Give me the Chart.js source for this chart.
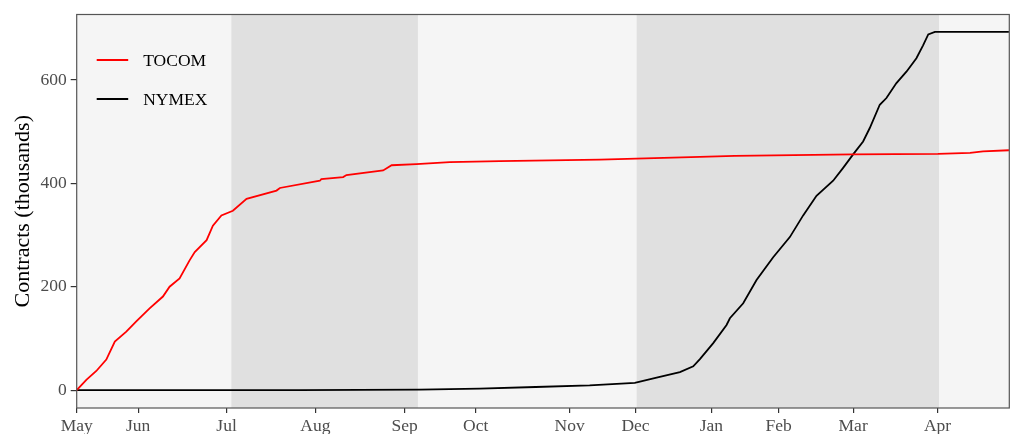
<!DOCTYPE html>
<html>
<head>
<meta charset="utf-8">
<script src="https://cdn.jsdelivr.net/npm/chart.js@4/dist/chart.umd.min.js"></script>
<style>
  html, body { margin: 0; padding: 0; background: #ffffff; }
  #wrap { width: 1013px; height: 434px; position: relative; }
</style>
</head>
<body>
<div id="wrap"><canvas id="c" width="1013" height="434"></canvas></div>
<script>
// x values are trading-day indices from the first trading day of May
const tickPositions = [0, 16.6, 40.5, 64.5, 88.6, 107.8, 133.2, 151.0, 171.5, 189.7, 209.8, 232.6];
const tickLabels = ['May', 'Jun', 'Jul', 'Aug', 'Sep', 'Oct', 'Nov', 'Dec', 'Jan', 'Feb', 'Mar', 'Apr'];
const xMax = 252;

// shaded periods (start, end) in the same trading-day units
const shadedStart = [41.8, 151.3];
const shadedEnd = [92.2, 233.0];

const yTicks = [0, 200, 400, 600];

const tocomX = [0, 2.6, 5.3, 8.0, 10.3, 13.4, 16.1, 19.7, 23.3, 25.1, 27.8, 30.5, 31.9, 35.1, 36.8, 39.1, 42.2, 45.9,
  54.0, 54.9, 65.7, 66.1, 72.0, 72.9, 82.8, 85.1, 91.8, 100.8, 114.3, 141.4, 168.4, 177.8, 209.7, 232.7, 241.4, 244.9, 251.9];
const tocomY = [0, 20, 37, 59, 94, 113, 133, 158, 181, 200, 216, 251, 267, 290, 318, 338, 347, 370,
  386, 391, 405, 408, 412, 416, 425, 435, 437, 441, 443, 446, 451, 453, 456, 457, 459, 462, 464];

const nymexX = [0, 60, 92.7, 108.9, 124.0, 138.6, 150.8, 156.7, 163.0, 166.6, 168.4, 172.0, 175.6, 176.5, 180.1, 183.7,
  188.2, 192.7, 196.3, 199.9, 204.4, 207.1, 209.8, 212.5, 214.3, 217.0, 218.8, 221.5, 224.2, 226.9, 228.7, 230.1, 231.9, 251.9];
const nymexY = [0, 0, 1, 3, 6, 9, 14, 24, 35, 46, 60, 91, 126, 139, 168, 213,
  257, 296, 338, 376, 405, 430, 456, 481, 507, 552, 565, 594, 616, 642, 667, 688, 693, 693];

const seriesNames = ['TOCOM', 'NYMEX'];
const seriesColors = ['#ff0000', '#000000'];

function toPoints(xs, ys) { return xs.map((x, i) => ({ x: x, y: ys[i] })); }

const SERIF = '"Liberation Serif", "DejaVu Serif", serif';

const bgPlugin = {
  id: 'bgPlugin',
  beforeDraw(chart) {
    const { ctx, chartArea: a, scales: { x } } = chart;
    ctx.save();
    ctx.fillStyle = '#ffffff';
    ctx.fillRect(0, 0, chart.width, chart.height);
    ctx.fillStyle = '#f5f5f5';
    ctx.fillRect(a.left, a.top, a.right - a.left, a.bottom - a.top);
    ctx.fillStyle = '#e0e0e0';
    for (let i = 0; i < shadedStart.length; i++) {
      const x0 = x.getPixelForValue(shadedStart[i]);
      const x1 = x.getPixelForValue(shadedEnd[i]);
      ctx.fillRect(x0, a.top, x1 - x0, a.bottom - a.top);
    }
    ctx.restore();
  },
  afterDraw(chart) {
    const { ctx, chartArea: a } = chart;
    ctx.save();
    ctx.strokeStyle = '#555555';
    ctx.lineWidth = 1.2;
    ctx.strokeRect(a.left, a.top, a.right - a.left, a.bottom - a.top);
    // legend
    const rows = [45.5, 84.5];
    ctx.font = '17.5px ' + SERIF;
    ctx.textBaseline = 'middle';
    ctx.textAlign = 'left';
    chart.data.datasets.forEach((ds, i) => {
      const y = a.top + rows[i];
      ctx.strokeStyle = ds.borderColor;
      ctx.lineWidth = 1.8;
      ctx.beginPath();
      ctx.moveTo(a.left + 20, y);
      ctx.lineTo(a.left + 51.5, y);
      ctx.stroke();
      ctx.fillStyle = '#000000';
      ctx.fillText(ds.label, a.left + 66.5, y + 1);
    });
    ctx.restore();
  }
};

new Chart(document.getElementById('c'), {
  type: 'line',
  data: {
    datasets: [
      { label: seriesNames[0], data: toPoints(tocomX, tocomY), borderColor: seriesColors[0], borderWidth: 1.8, pointRadius: 0, tension: 0, fill: false },
      { label: seriesNames[1], data: toPoints(nymexX, nymexY), borderColor: seriesColors[1], borderWidth: 1.8, pointRadius: 0, tension: 0, fill: false }
    ]
  },
  options: {
    responsive: false,
    animation: false,
    layout: { padding: { top: 12.5, right: 3.7, bottom: 0, left: 0 } },
    plugins: { legend: { display: false }, tooltip: { enabled: false } },
    scales: {
      x: {
        type: 'linear', min: 0, max: xMax,
        afterBuildTicks(scale) { scale.ticks = tickPositions.map(v => ({ value: v })); },
        afterFit(scale) { scale.height = 26; },
        ticks: {
          autoSkip: false, maxRotation: 0, minRotation: 0, padding: 3,
          color: '#4d4d4d', font: { family: SERIF, size: 17.5 },
          callback(value, index) { return tickLabels[index]; }
        },
        grid: { drawOnChartArea: false, drawTicks: true, tickLength: 5, color: '#333333', lineWidth: 1.2 },
        border: { display: false }
      },
      y: {
        type: 'linear', min: -34.6, max: 726.6,
        afterBuildTicks(scale) { scale.ticks = yTicks.map(v => ({ value: v })); },
        afterFit(scale) { scale.width = 76.7; },
        ticks: { padding: 4, color: '#4d4d4d', font: { family: SERIF, size: 17.5 } },
        grid: { drawOnChartArea: false, drawTicks: true, tickLength: 6, color: '#333333', lineWidth: 1.2 },
        border: { display: false },
        title: { display: true, text: 'Contracts (thousands)', color: '#000000', font: { family: SERIF, size: 22 }, padding: { top: 10, bottom: 0 } }
      }
    }
  },
  plugins: [bgPlugin]
});
</script>
</body>
</html>
